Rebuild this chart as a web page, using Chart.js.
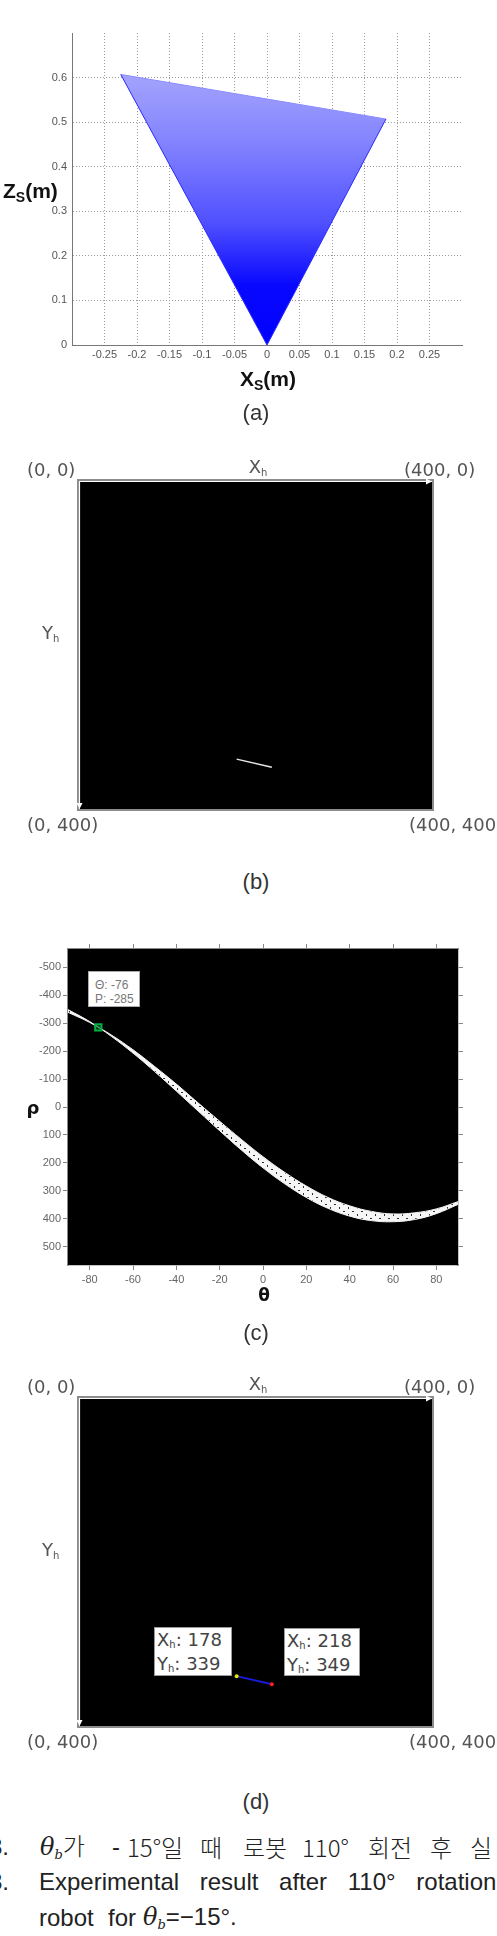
<!DOCTYPE html>
<html>
<head>
<meta charset="utf-8">
<script src="https://cdn.jsdelivr.net/npm/chart.js@4.4.1/dist/chart.umd.min.js"></script>
<style>
  body { margin: 0; background: #fff; }
  #page { position: relative; width: 497px; height: 1936px; overflow: hidden; background: #fff; }
  canvas { position: absolute; left: 0; }
  .t { position: absolute; white-space: nowrap; line-height: 1; }
  .c { transform: translate(-50%, -50%); }
  .l { transform: translateY(-50%); }
  .corner { font: 18px "DejaVu Sans", sans-serif; color: #555; }
  .axt { font: bold 21px "Liberation Sans", sans-serif; color: #111; }
  .axt sub { font-size: 14px; vertical-align: -4px; }
  .hl { font: 18px "DejaVu Sans", sans-serif; color: #555; }
  .hl sub { font-size: 10px; vertical-align: -3px; }
  .panel { font: 22px "Liberation Sans", sans-serif; color: #333; }
  .lbl { position: absolute; background: #fff; border: 1px solid #999; box-sizing: border-box;
         font: 18px "DejaVu Sans", sans-serif; color: #444; line-height: 24px; padding: 0 0 0 2px; white-space: nowrap; }
  .lbl sub { font-size: 10px; vertical-align: -2px; line-height: 0; }
  .peak { position: absolute; background: #fff; border: 1px solid #aaa; box-sizing: border-box;
          font: 12px "Liberation Sans", sans-serif; color: #777; line-height: 14px; padding: 6px 0 0 6px; }
  .cap { position: absolute; white-space: nowrap; font: 24px "Liberation Sans", "Noto Sans CJK KR", sans-serif; color: #222; line-height: 1; transform: translateY(-50%); }
  .cap.kr { font-family: "Noto Sans CJK KR", sans-serif; font-weight: 300; }
  .th { font-family: "DejaVu Serif", serif; font-style: italic; }
  .th sub { font-size: 13px; vertical-align: -4px; }
</style>
</head>
<body>
<div id="page">
  <canvas id="chartA" width="497" height="400" style="top:0"></canvas>
  <canvas id="chartB" width="497" height="370" style="top:460px"></canvas>
  <canvas id="chartC" width="497" height="370" style="top:930px"></canvas>
  <canvas id="chartD" width="497" height="370" style="top:1377px"></canvas>

  <!-- (a) -->
  <div class="t l axt" style="left:3px;top:192px">Z<sub>S</sub>(m)</div>
  <div class="t c axt" style="left:268px;top:380px">X<sub>S</sub>(m)</div>
  <div class="t c panel" style="left:256px;top:413px">(a)</div>

  <!-- (b) -->
  <div class="t l corner" style="left:27px;top:469px">(0, 0)</div>
  <div class="t c hl" style="left:258px;top:467px">X<sub>h</sub></div>
  <div class="t l corner" style="left:404px;top:469px">(400, 0)</div>
  <div class="t l hl" style="left:42px;top:633px">Y<sub>h</sub></div>
  <div class="t l corner" style="left:27px;top:824px">(0, 400)</div>
  <div class="t l corner" style="left:409px;top:824px">(400, 400)</div>
  <div class="t c panel" style="left:256px;top:882px">(b)</div>

  <!-- (c) -->
  <div class="peak" style="left:88px;top:971px;width:52px;height:36px">Θ: -76<br>P: -285</div>
  <div class="t c" style="left:33px;top:1107px;font:bold 18px 'DejaVu Sans',sans-serif;color:#111">ρ</div>
  <div class="t c" style="left:264px;top:1295px;font:bold 17px 'DejaVu Sans',sans-serif;color:#111">θ</div>
  <div class="t c panel" style="left:256px;top:1333px">(c)</div>

  <!-- (d) -->
  <div class="t l corner" style="left:27px;top:1386px">(0, 0)</div>
  <div class="t c hl" style="left:258px;top:1384px">X<sub>h</sub></div>
  <div class="t l corner" style="left:404px;top:1386px">(400, 0)</div>
  <div class="t l hl" style="left:42px;top:1550px">Y<sub>h</sub></div>
  <div class="t l corner" style="left:27px;top:1741px">(0, 400)</div>
  <div class="t l corner" style="left:409px;top:1741px">(400, 400)</div>
  <div class="lbl" style="left:154px;top:1627px;width:78px;height:49px">X<sub>h</sub>: 178<br>Y<sub>h</sub>: 339</div>
  <div class="lbl" style="left:284px;top:1628px;width:76px;height:48px">X<sub>h</sub>: 218<br>Y<sub>h</sub>: 349</div>
  <div class="t c panel" style="left:256px;top:1802px">(d)</div>

  <!-- caption -->
  <div class="cap" style="left:-11px;top:1847px">8.</div>
  <div class="cap kr" style="left:40px;top:1847px"><span class="th">θ<sub>b</sub></span>가</div>
  <div class="cap" style="left:112px;top:1847px">-</div>
  <div class="cap kr" style="left:127px;top:1847px">15°일</div>
  <div class="cap kr" style="left:200px;top:1847px">때</div>
  <div class="cap kr" style="left:243px;top:1847px">로봇</div>
  <div class="cap kr" style="left:302px;top:1847px">110°</div>
  <div class="cap kr" style="left:368px;top:1847px">회전</div>
  <div class="cap kr" style="left:430px;top:1847px">후</div>
  <div class="cap kr" style="left:470px;top:1847px">실</div>
  <div class="cap" style="left:-11px;top:1882px">8.</div>
  <div class="cap" style="left:39px;top:1882px;word-spacing:14px">Experimental result after 110° rotation</div>
  <div class="cap" style="left:39px;top:1918px">robot</div>
  <div class="cap" style="left:108px;top:1918px">for</div>
  <div class="cap" style="left:143px;top:1918px"><span class="th">θ<sub>b</sub></span>=−15°.</div>
</div>

<script>
// (a) sensor scan fan: far edge and the two side edges through the origin (m)
const fanTopXs = [-0.225, 0.183];
const fanTopZs = [0.607, 0.507];
const fanSideXs = [-0.225, 0, 0.183];
const fanSideZs = [0.607, 0, 0.507];
const xsTicks = [-0.3, -0.25, -0.2, -0.15, -0.1, -0.05, 0, 0.05, 0.1, 0.15, 0.2, 0.25, 0.3];
const zsTicks = [0, 0.1, 0.2, 0.3, 0.4, 0.5, 0.6, 0.7];

// (b)/(d) detected line end points in image coords
const lineXh = [178, 218];
const lineYh = [339, 349];

// (c) Hough space band (edges of the sinusoid band)
const thetaDeg = [-90, -80, -70, -60, -50, -40, -30, -20, -10, 0, 10, 20, 30, 40, 50, 60, 70, 80, 90];
const rhoEdgeA = [-339, -303, -258, -205, -145, -82, -15, 51, 116, 178, 234, 283, 324, 354, 374, 383, 379, 365, 339];
const rhoEdgeB = [-349, -306, -253, -193, -127, -57, 14, 85, 154, 218, 275, 324, 363, 391, 407, 411, 403, 382, 349];
const peakTheta = -76;
const peakRho = -285;
const thetaTicks = [-80, -60, -40, -20, 0, 20, 40, 60, 80];
const rhoTicks = [-500, -400, -300, -200, -100, 0, 100, 200, 300, 400, 500];
const rhoMax = 566;

Chart.defaults.font.family = '"Liberation Sans", Arial, sans-serif';
Chart.defaults.animation = false;
Chart.defaults.events = [];
Chart.defaults.plugins.legend.display = false;
Chart.defaults.plugins.tooltip.enabled = false;

const toPts = (xs, ys) => xs.map((x, i) => ({ x, y: ys[i] }));
const setTicks = (vals) => (s) => { s.ticks = vals.map((v) => ({ value: v })); };
const fmt = (v) => String(Math.round(v * 100) / 100);

const blackBg = {
  id: 'blackBg',
  beforeDatasetsDraw(chart) {
    const { ctx, chartArea: a } = chart;
    ctx.save();
    ctx.fillStyle = '#000';
    ctx.fillRect(a.left, a.top, a.width, a.height);
    ctx.restore();
  }
};

const arrowFrame = {
  id: 'arrowFrame',
  afterDraw(chart) {
    const { ctx, chartArea: a } = chart;
    ctx.save();
    ctx.strokeStyle = '#8c8c8c';
    ctx.lineWidth = 2;
    ctx.strokeRect(a.left - 2, a.top - 2, a.width + 3, a.height + 3);
    ctx.strokeStyle = '#fff';
    ctx.fillStyle = '#fff';
    ctx.lineWidth = 1.2;
    const x0 = a.left - 0.5, y0 = a.top - 0.5;
    ctx.beginPath();
    ctx.moveTo(x0, y0); ctx.lineTo(a.right - 3, y0);
    ctx.moveTo(x0, y0); ctx.lineTo(x0, a.bottom - 3);
    ctx.stroke();
    ctx.beginPath();
    ctx.moveTo(a.right, y0); ctx.lineTo(a.right - 6, y0 - 3); ctx.lineTo(a.right - 6, y0 + 3); ctx.closePath();
    ctx.moveTo(x0, a.bottom); ctx.lineTo(x0 - 3, a.bottom - 6); ctx.lineTo(x0 + 3, a.bottom - 6); ctx.closePath();
    ctx.fill();
    ctx.restore();
  }
};

// light at the far edge, saturated blue toward the sensor
function fanGradient(c) {
  const chart = c.chart;
  if (!chart.chartArea) return '#6666ff';
  const ys = chart.scales.y;
  const g = chart.ctx.createLinearGradient(0, ys.getPixelForValue(0), 0, ys.getPixelForValue(0.61));
  g.addColorStop(0, '#0000ff');
  g.addColorStop(0.22, '#0808ff');
  g.addColorStop(0.45, '#5050ff');
  g.addColorStop(0.75, '#8484ff');
  g.addColorStop(1, '#a4a4fc');
  return g;
}

// (a)
new Chart(document.getElementById('chartA'), {
  type: 'scatter',
  data: {
    datasets: [
      {
        data: toPts(fanSideXs, fanSideZs),
        showLine: true,
        borderColor: '#2a2aff',
        borderWidth: 1,
        pointRadius: 0
      },
      {
        data: toPts(fanTopXs, fanTopZs),
        showLine: true,
        fill: 0,
        borderColor: '#8a8aff',
        borderWidth: 1,
        pointRadius: 0,
        backgroundColor: fanGradient
      }
    ]
  },
  options: {
    responsive: false,
    layout: { padding: { top: 33, right: 35, left: 0, bottom: 0 } },
    scales: {
      x: {
        type: 'linear', min: -0.3, max: 0.3,
        afterBuildTicks: setTicks(xsTicks),
        afterFit: (s) => { s.height = 55; },
        grid: { color: (c) => (Math.abs(c.tick.value) > 0.29 ? 'rgba(0,0,0,0)' : '#9a9a9a'), drawTicks: false, lineWidth: 1 },
        border: { color: '#777', width: 1, dash: [1, 2] },
        ticks: { callback: (v) => (Math.abs(v) > 0.29 ? '' : fmt(v)), color: '#555', font: { size: 11 }, padding: 3, maxRotation: 0, autoSkip: false }
      },
      y: {
        type: 'linear', min: 0, max: 0.7,
        afterBuildTicks: setTicks(zsTicks),
        afterFit: (s) => { s.width = 72; },
        grid: { color: (c) => (c.tick.value < 0.01 || c.tick.value > 0.69 ? 'rgba(0,0,0,0)' : '#9a9a9a'), drawTicks: false, lineWidth: 1 },
        border: { color: '#777', width: 1, dash: [1, 2] },
        ticks: { callback: (v) => (v > 0.69 ? '' : fmt(v)), color: '#555', font: { size: 11 }, padding: 5, autoSkip: false }
      }
    }
  }
});

// (b) and (d) image planes
function imagePlane(id, lineDs) {
  return new Chart(document.getElementById(id), {
    type: 'scatter',
    data: { datasets: [lineDs] },
    options: {
      responsive: false,
      layout: { padding: { top: 22, left: 80, right: 65, bottom: 21 } },
      scales: {
        x: { type: 'linear', min: 0, max: 400, display: false },
        y: { type: 'linear', min: 0, max: 400, reverse: true, display: false }
      }
    },
    plugins: [blackBg, arrowFrame]
  });
}

imagePlane('chartB', {
  data: toPts(lineXh, lineYh),
  showLine: true,
  borderColor: '#e8e8e8',
  borderWidth: 1.5,
  pointRadius: 0
});

imagePlane('chartD', {
  data: toPts(lineXh, lineYh),
  showLine: true,
  borderColor: '#1a1ad8',
  borderWidth: 2,
  pointRadius: 2,
  pointBorderWidth: 0,
  pointBackgroundColor: ['#e6e600', '#ff2020']
});

// speckled white for the Hough band
function speckle() {
  const cv = document.createElement('canvas');
  cv.width = 9; cv.height = 7;
  const g = cv.getContext('2d');
  g.fillStyle = '#f6f6f6';
  g.fillRect(0, 0, 9, 7);
  g.fillStyle = '#303030';
  g.fillRect(1, 1, 2, 1);
  g.fillRect(6, 4, 1, 2);
  return g.createPattern(cv, 'repeat');
}

// (c) Hough space
const tickGrid = { drawOnChartArea: false, drawTicks: true, tickLength: 5, color: '#888', tickColor: '#888' };
const frameBorder = { color: '#8a8a8a', width: 1.5 };
new Chart(document.getElementById('chartC'), {
  type: 'scatter',
  data: {
    datasets: [
      {
        data: [{ x: peakTheta, y: peakRho }],
        pointStyle: 'rect',
        pointRadius: 4.5,
        borderColor: '#00b040',
        borderWidth: 2,
        backgroundColor: 'rgba(0,110,40,0.55)'
      },
      {
        data: toPts(thetaDeg, rhoEdgeA),
        showLine: true,
        borderColor: '#f4f4f4',
        borderWidth: 1,
        pointRadius: 0,
        tension: 0.4
      },
      {
        data: toPts(thetaDeg, rhoEdgeB),
        showLine: true,
        borderColor: '#f4f4f4',
        borderWidth: 1,
        pointRadius: 0,
        tension: 0.4,
        fill: 1,
        backgroundColor: speckle()
      }
    ]
  },
  options: {
    responsive: false,
    layout: { padding: { top: 14, right: 34, left: 0, bottom: 0 } },
    scales: {
      x: {
        type: 'linear', position: 'bottom', min: -90, max: 90,
        afterBuildTicks: setTicks(thetaTicks),
        afterFit: (s) => { s.height = 35; },
        grid: tickGrid, border: frameBorder,
        ticks: { color: '#666', font: { size: 11 }, padding: 3, maxRotation: 0, autoSkip: false }
      },
      x2: {
        type: 'linear', position: 'top', min: -90, max: 90,
        afterBuildTicks: setTicks(thetaTicks),
        afterFit: (s) => { s.height = 5; },
        grid: tickGrid, border: frameBorder,
        ticks: { display: false }
      },
      y: {
        type: 'linear', position: 'left', min: -rhoMax, max: rhoMax, reverse: true,
        afterBuildTicks: setTicks(rhoTicks),
        afterFit: (s) => { s.width = 68; },
        grid: tickGrid, border: frameBorder,
        ticks: { color: '#666', font: { size: 11 }, padding: 2, autoSkip: false }
      },
      y2: {
        type: 'linear', position: 'right', min: -rhoMax, max: rhoMax, reverse: true,
        afterBuildTicks: setTicks(rhoTicks),
        afterFit: (s) => { s.width = 5; },
        grid: tickGrid, border: frameBorder,
        ticks: { display: false }
      }
    }
  },
  plugins: [blackBg]
});
</script>
</body>
</html>
